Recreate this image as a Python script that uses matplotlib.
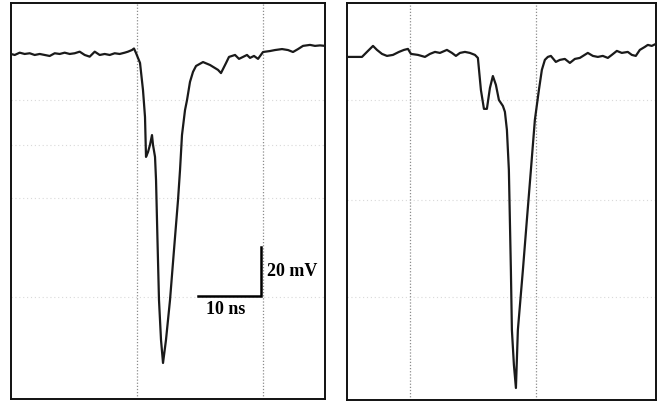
import matplotlib
matplotlib.use("Agg")
import matplotlib.pyplot as plt

# ----------------------------------------------------------------------------
# Scope traces: time in ns, amplitude in mV (baseline 0)
# ----------------------------------------------------------------------------
left_t = [0.0, 0.59, 1.38, 2.17, 2.97, 3.76, 4.56, 5.35, 6.14, 6.94, 7.73,
          8.52, 9.32, 10.11, 10.90, 11.70, 12.49, 13.29, 14.08, 14.87, 15.67,
          16.46, 17.25, 18.05, 18.57, 19.21, 19.52, 19.84, 20.48, 20.95,
          21.27, 21.43, 21.75, 22.06, 22.38, 22.54, 22.86, 23.02, 23.25,
          23.49, 23.81, 24.13, 24.60, 25.24, 25.87, 26.51, 26.83, 27.14,
          27.62, 27.94, 28.41, 28.89, 29.37, 30.48, 31.59, 32.86, 33.33,
          34.13, 34.60, 35.56, 36.19, 36.83, 37.46, 37.94, 38.57, 39.21,
          40.0, 41.11, 41.90, 43.02, 43.97, 44.76, 45.56, 46.35, 47.46,
          48.25, 49.05, 49.84]
left_v = [0.0, -0.41, 0.53, 0.0, 0.29, -0.41, 0.0, -0.41, -0.82, 0.29, 0.0,
          0.53, 0.0, 0.29, 0.94, -0.41, -1.10, 0.94, -0.41, 0.0, -0.41,
          0.29, 0.0, 0.53, 0.94, 1.63, 2.24, 0.41, -3.67, -14.7,
          -25.7, -42.0, -40.0, -37.1, -33.1, -37.1, -42.0, -51.4, -75.9,
          -100.4, -116.7, -126.1, -116.7, -100.4, -80.0, -59.6, -47.3, -33.1,
          -22.9, -18.8, -11.4, -7.3, -4.9, -3.3, -4.5, -6.5, -7.8,
          -3.7, -1.2, -0.4, -2.0, -1.2, -0.4, -1.6, -0.8, -2.0,
          0.8, 1.2, 1.6, 2.0, 1.6, 0.8, 2.0, 3.3, 3.7,
          3.3, 3.5, 3.3]

right_t = [0.0, 2.38, 3.33, 4.13, 4.76, 5.56, 6.35, 7.30, 8.25, 9.05, 9.68,
           10.16, 11.27, 12.38, 13.17, 13.97, 14.76, 15.87, 16.67, 17.30,
           17.94, 18.73, 19.52, 20.32, 20.79, 21.27, 21.75, 22.22, 22.70,
           23.17, 23.65, 24.13, 24.76, 25.08, 25.40, 25.71, 26.03, 26.19,
           26.51, 26.83, 27.14, 27.94, 28.57, 29.21, 29.84, 30.48, 30.95,
           31.43, 31.90, 32.38, 33.17, 33.81, 34.60, 35.40, 36.19, 36.98,
           38.25, 39.05, 39.84, 40.63, 41.43, 42.06, 42.86, 43.65, 44.60,
           45.24, 45.87, 46.51, 47.30, 47.78, 48.41, 49.05]
right_v = [0.0, 0.0, 2.45, 4.49, 2.86, 1.22, 0.41, 0.82, 2.04, 2.86, 3.27,
           1.22, 0.82, 0.0, 1.22, 2.04, 1.63, 2.86, 1.63, 0.41,
           1.63, 2.04, 1.63, 0.82, -0.41, -13.5, -21.2, -21.2, -12.7,
           -7.8, -11.4, -17.6, -20.0, -22.4, -29.8, -46.1, -86.9, -111.4,
           -125.7, -135.1, -111.4, -86.9, -66.5, -46.1, -25.7, -13.5, -5.3,
           -1.2, 0.0, 0.41, -2.04, -1.22, -0.82, -2.45, -0.82, -0.41,
           1.63, 0.41, 0.0, 0.41, -0.41, 0.82, 2.45, 1.63, 2.04,
           0.82, 0.41, 2.86, 4.08, 4.90, 4.49, 5.31]

# screen graticule (ns / mV) and faint scan lines
left_vgrid = [20, 40]
right_vgrid = [10, 30]
left_hgrid = [-18.8, -37.1, -58.8, -99.2]
right_hgrid = [-17.6, -58.4, -98.0]

# scale bar: 10 ns x 20 mV, corner position in the left panel
BAR_T, BAR_V = 39.7, -98.8
BAR_DT, BAR_DV = 10.0, 20.0

TRACE = "#1a1a1a"


def panel(fig, rect, t, v, xlim, ylim, vgrid, hgrid):
    ax = fig.add_axes(rect)
    for g in hgrid:
        ax.axhline(g, color="#d9d9d9", lw=0.8, ls=(0, (1, 2.5)), zorder=1)
    for g in vgrid:
        ax.axvline(g, color="#8c8c8c", lw=0.9, ls=(0, (1, 1.5)), zorder=1)
    ax.plot(t, v, color=TRACE, lw=1.6, solid_joinstyle="round", zorder=3)
    ax.set_xlim(*xlim)
    ax.set_ylim(*ylim)
    ax.set_xticks([])
    ax.set_yticks([])
    for s in ax.spines.values():
        s.set_linewidth(1.4)
        s.set_color("#111")
    return ax


fig = plt.figure(figsize=(6.57, 4.05), dpi=100)

axl = panel(fig, [11 / 657, 6 / 405, 314 / 657, 396 / 405],
            left_t, left_v, (0, 49.84), (-140.8, 20.8), left_vgrid, left_hgrid)
axr = panel(fig, [347 / 657, 5 / 405, 308.5 / 657, 397 / 405],
            right_t, right_v, (0, 49.0), (-140.0, 22.0), right_vgrid, right_hgrid)

# scale bar
axl.plot([BAR_T - BAR_DT, BAR_T, BAR_T], [BAR_V, BAR_V, BAR_V + BAR_DV],
         color="black", lw=1.8, solid_joinstyle="miter", zorder=4)
font = dict(family="Liberation Serif", weight="bold", size=13)
axl.text(BAR_T + 1.0, BAR_V + BAR_DV / 2, "20 mV", ha="left", va="center", **font)
axl.text(BAR_T - BAR_DT / 2 - 0.6, BAR_V - 5.4, "10 ns", ha="center", va="center", **font)

fig.savefig("out.png", dpi=100)
